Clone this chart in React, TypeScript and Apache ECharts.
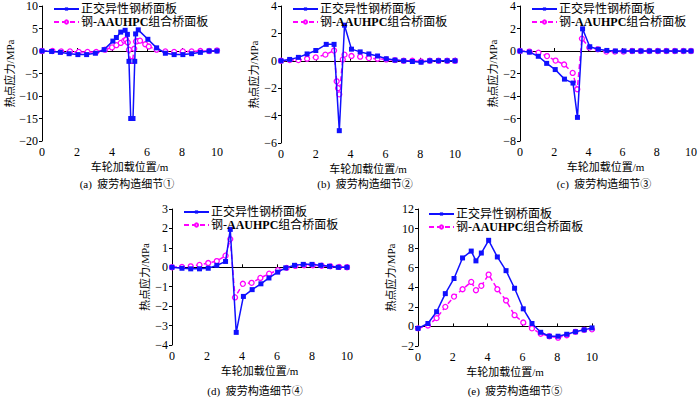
import React, { useEffect, useRef } from "react";
import * as echarts from "echarts";

const seriesNames = ["正交异性钢桥面板", "钢-AAUHPC组合桥面板"];
const captions = ["(a)  疲劳构造细节①", "(b)  疲劳构造细节②", "(c)  疲劳构造细节③", "(d)  疲劳构造细节④", "(e)  疲劳构造细节⑤"];
const xAxisName = "车轮加载位置/m";
const yAxisName = "热点应力/MPa";

const aSteel: number[][] = [[0,0],[0.55,-0.1],[1.05,-0.3],[1.55,-0.6],[2.05,-0.8],[2.55,-0.8],[3.05,-0.5],[3.55,0.3],[4.05,2.2],[4.25,3.0],[4.5,4.2],[4.75,4.6],[4.88,3.7],[4.97,-2.3],[5.07,-15],[5.2,-15],[5.3,-2.3],[5.35,3.8],[5.5,4.7],[6.05,2.6],[6.55,0.7],[7.05,-0.5],[7.55,-0.8],[8.05,-0.8],[8.55,-0.6],[9.05,-0.3],[9.55,0],[10,0]];
const aComp: number[][] = [[0,0],[0.6,0],[1.1,-0.1],[1.6,-0.1],[2.1,-0.2],[2.6,-0.2],[3.1,-0.2],[3.6,0.3],[4.0,0.8],[4.25,1.3],[4.5,1.8],[4.7,2.3],[4.8,2.5],[4.9,1.9],[4.97,0.3],[5.05,-2.2],[5.17,-2.2],[5.27,0.5],[5.37,2.1],[5.47,2.2],[5.6,2.3],[5.9,1.5],[6.1,1.0],[6.55,0.3],[7.05,-0.1],[7.55,-0.2],[8.05,-0.1],[8.55,-0.1],[9.05,0],[9.55,0],[10,0.1]];

const bSteel: number[][] = [[0,0],[0.5,0.1],[1.0,0.25],[1.5,0.5],[2.0,0.75],[2.6,1.2],[3.05,1.2],[3.35,-5.1],[3.65,2.6],[4.05,0.85],[4.55,0.65],[5.05,0.5],[5.55,0.35],[6.05,0.15],[6.55,0.05],[7.05,0],[7.55,-0.05],[8.05,-0.1],[8.55,0],[9.05,0],[9.55,0],[10,0]];
const bComp: number[][] = [[0,0],[0.5,0.05],[1.0,0.05],[1.5,0.15],[2.0,0.25],[2.55,0.45],[3.05,0.75],[3.2,-1.5],[3.28,-2.0],[3.35,-2.45],[3.55,0.1],[3.65,0.45],[4.05,0.35],[4.55,0.3],[5.05,0.2],[5.55,0.15],[6.05,0.1],[6.55,0.05],[7.05,0],[7.55,0],[8.05,-0.05],[8.55,0],[9.05,0],[9.55,0],[10,0]];

const cSteel: number[][] = [[0,0],[0.55,-0.1],[1.07,-0.47],[1.56,-1.1],[2.06,-1.65],[2.6,-2.5],[3.1,-2.85],[3.36,-5.9],[3.66,1.97],[4.08,0.38],[4.58,0.15],[5.08,0.05],[5.58,0],[6.08,0],[6.58,0],[7.08,0],[7.58,0],[8.08,0],[8.58,0],[9.08,0],[9.58,0],[10,0]];
const cComp: number[][] = [[0,0],[0.55,-0.05],[1.08,-0.15],[1.58,-0.45],[2.08,-0.85],[2.58,-1.2],[3.08,-1.95],[3.35,-3.4],[3.62,1.1],[4.05,0.3],[4.55,0.15],[5.05,-0.05],[5.55,-0.05],[6.05,-0.05],[6.55,0],[7.05,0],[7.55,0],[8.05,0],[8.55,0],[9.05,0],[9.55,0],[10,0]];

const dSteel: number[][] = [[0,0],[0.57,-0.05],[1.07,-0.08],[1.57,-0.08],[2.07,-0.05],[2.56,0.1],[3.06,0.3],[3.33,1.95],[3.67,-3.35],[4.08,-1.5],[4.58,-1.15],[5.08,-0.85],[5.54,-0.55],[6.04,-0.25],[6.5,-0.03],[7.0,0.1],[7.5,0.15],[8.0,0.15],[8.5,0.1],[9.0,0.05],[9.5,0],[10,0]];
const dComp: number[][] = [[0,0],[0.57,0.02],[1.07,0.05],[1.57,0.12],[2.07,0.22],[2.56,0.32],[3.06,0.6],[3.33,1.45],[3.6,-1.55],[4.05,-0.85],[4.55,-0.8],[5.05,-0.55],[5.55,-0.33],[6.05,-0.15],[6.55,-0.03],[7.05,0.07],[7.55,0.1],[8.05,0.1],[8.55,0.08],[9.05,0.05],[9.55,0.02],[10,0]];

const eSteel: number[][] = [[0,-0.2],[0.57,0.3],[1.07,1.5],[1.57,3.35],[2.07,4.9],[2.56,7.0],[3.06,7.7],[3.33,6.7],[3.64,7.5],[4.06,8.8],[4.56,7.1],[5.06,5.7],[5.55,3.9],[6.05,1.8],[6.55,0.3],[7.05,-0.6],[7.55,-1.0],[8.05,-1.0],[8.55,-0.8],[9.05,-0.55],[9.55,-0.35],[10,-0.15]];
const eComp: number[][] = [[0,-0.2],[0.57,0.1],[1.07,0.85],[1.57,2.0],[2.07,3.05],[2.56,3.8],[3.06,4.55],[3.33,3.7],[3.64,4.15],[4.06,5.3],[4.56,3.8],[5.06,2.65],[5.55,1.15],[6.05,0.4],[6.55,-0.2],[7.05,-0.75],[7.55,-1.0],[8.05,-1.15],[8.55,-0.9],[9.05,-0.55],[9.55,-0.35],[10,-0.3]];

const yMins = [-20, -6, -8, -4, -2];
const yMaxs = [10, 4, 4, 3, 12];
const yIntervals = [5, 2, 2, 1, 2];

const SERIF = "'Liberation Serif', 'Times New Roman', 'Noto Sans CJK SC', serif";

export default function App() {
  const ref = useRef<HTMLDivElement>(null);
  useEffect(() => {
    if (!ref.current) return;
    const chart = echarts.init(ref.current, null, { renderer: "svg" });
    const grids = [
      { left: 42, top: 5, width: 175, height: 136 },
      { left: 281, top: 4, width: 174, height: 139 },
      { left: 520, top: 5, width: 175, height: 136 },
      { left: 172, top: 209, width: 175, height: 136 },
      { left: 418, top: 209, width: 174, height: 137 },
    ];
    const legendPos = [
      { left: 48, top: -2 },
      { left: 287, top: -2 },
      { left: 526, top: -2 },
      { left: 178, top: 201 },
      { left: 423, top: 203 },
    ];
    const captionX = [127, 365, 604, 255, 515];
    const captionY = [184, 184, 184, 391, 391];
    const steelData = [aSteel, bSteel, cSteel, dSteel, eSteel];
    const compData = [aComp, bComp, cComp, dComp, eComp];
    const minus = (v: number) => String(v).replace("-", "\u2212");
    const axisLine = { lineStyle: { color: "#000", width: 1 } };
    const labelStyle = { color: "#000", fontSize: 12, fontFamily: SERIF };

    const series: any[] = [];
    for (let i = 0; i < 5; i++) {
      series.push({
        type: "line",
        name: seriesNames[0],
        xAxisIndex: i,
        yAxisIndex: i,
        data: steelData[i],
        symbol: "rect",
        symbolSize: 5,
        lineStyle: { color: "#1010ff", width: 1.5 },
        itemStyle: { color: "#1010ff" },
        z: 3,
      });
      series.push({
        type: "line",
        name: seriesNames[1],
        xAxisIndex: i,
        yAxisIndex: i,
        data: compData[i],
        symbol: "circle",
        symbolSize: 5,
        showAllSymbol: true,
        lineStyle: { color: "#ff00ff", width: 1.5, type: [5, 3] },
        itemStyle: { color: "#fff", borderColor: "#ff00ff", borderWidth: 1.3 },
        z: 2,
      });
    }

    chart.setOption({
      animation: false,
      backgroundColor: "#fff",
      grid: grids.map((g) => ({ ...g, containLabel: false })),
      xAxis: grids.map((_, i) => ({
        type: "value",
        gridIndex: i,
        min: 0,
        max: 10,
        interval: 2,
        name: xAxisName,
        nameLocation: "middle",
        nameGap: 20,
        nameTextStyle: { color: "#000", fontSize: 11, fontFamily: SERIF },
        axisLine,
        axisTick: { show: true, inside: true, length: 3, lineStyle: { color: "#000" } },
        axisLabel: { ...labelStyle, margin: 5 },
        splitLine: { show: false },
      })),
      yAxis: grids.map((_, i) => ({
        type: "value",
        gridIndex: i,
        min: yMins[i],
        max: yMaxs[i],
        interval: yIntervals[i],
        name: yAxisName,
        nameLocation: "middle",
        nameGap: i === 0 ? 26 : 22,
        nameTextStyle: { color: "#000", fontSize: 11, fontFamily: SERIF },
        axisLine: { show: true, ...axisLine },
        axisTick: { show: true, inside: false, length: 3, lineStyle: { color: "#000" } },
        axisLabel: { ...labelStyle, margin: 4, formatter: (v: number) => minus(v) },
        splitLine: { show: false },
      })),
      legend: legendPos.map((p) => ({
        ...p,
        orient: "vertical",
        itemWidth: 25,
        itemHeight: 4,
        itemGap: 1,
        selectedMode: false,
        data: seriesNames,
        formatter: (name: string) =>
          name === seriesNames[1] ? "{n|钢-}{b|AAUHPC}{n|组合桥面板}" : "{n|" + name + "}",
        textStyle: {
          color: "#000",
          fontSize: 12,
          fontFamily: SERIF,
          padding: [0, 0, 0, -3],
          rich: {
            n: { fontSize: 12, fontFamily: SERIF, color: "#000" },
            b: { fontSize: 12, fontFamily: SERIF, color: "#000", fontWeight: "bold" },
          },
        },
      })),
      series,
      graphic: captions.map((c, i) => ({
        type: "text",
        x: captionX[i],
        y: captionY[i],
        style: {
          text: c,
          fill: "#000",
          font: `11px ${SERIF}`,
          textAlign: "center",
          textVerticalAlign: "middle",
        },
      })),
    });
    return () => chart.dispose();
  }, []);
  return <div ref={ref} style={{ position: "absolute", left: 0, top: 0, width: 700, height: 397 }} />;
}
